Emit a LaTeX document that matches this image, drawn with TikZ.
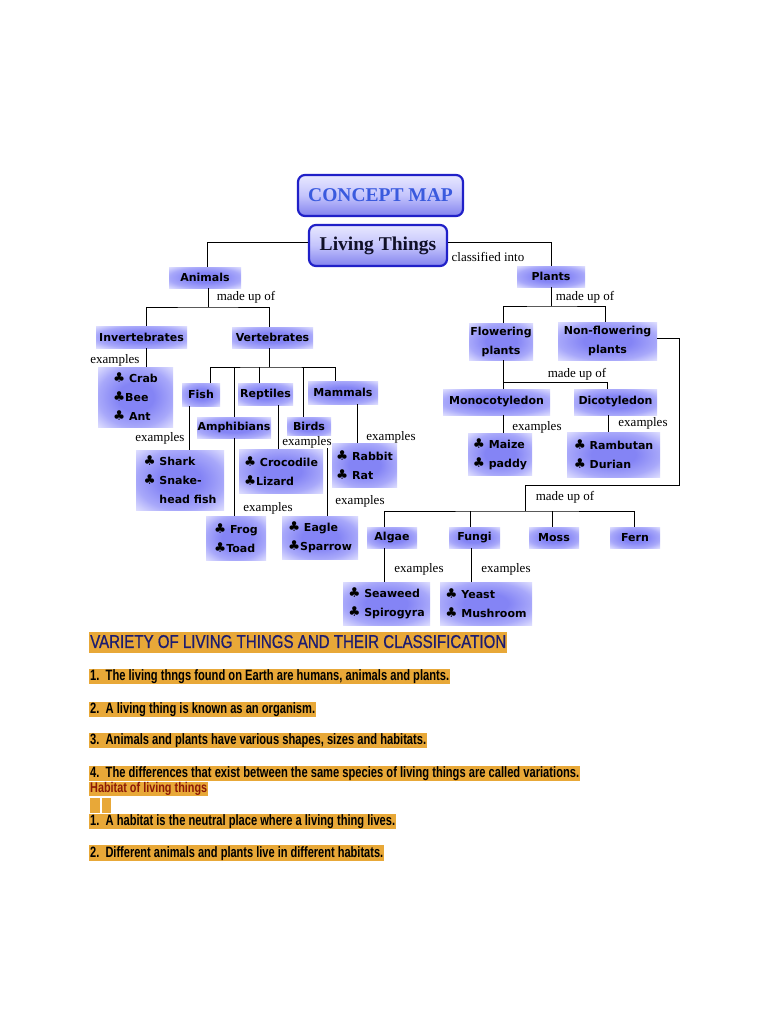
\documentclass[tikz,border=0pt]{standalone}
\usepackage{fontspec}
\usepackage{graphicx}
\setmainfont{Liberation Serif}
\newfontfamily\comicf{DejaVu Sans}
\newfontfamily\arialf{Liberation Sans}
\newfontfamily\arialhead{Liberation Sans}[FakeBold=0.8]
\definecolor{glowin}{RGB}{132,132,245}
\definecolor{glowmid}{RGB}{168,168,250}
\definecolor{glowout}{RGB}{226,226,255}
\definecolor{mainborder}{RGB}{32,32,200}
\definecolor{mtop}{RGB}{232,232,255}
\definecolor{mmid}{RGB}{196,196,252}
\definecolor{mbot}{RGB}{130,130,238}
\definecolor{titleblue}{RGB}{58,90,222}
\definecolor{hlorange}{RGB}{232,168,56}
\definecolor{navytext}{RGB}{28,28,112}
\definecolor{maroontext}{RGB}{140,26,6}
\pgfdeclareradialshading{glowshade}{\pgfpoint{0bp}{0bp}}{color(0bp)=(glowin); color(12bp)=(glowin); color(25bp)=(glowmid); color(36bp)=(glowout); color(50bp)=(glowout)}
\newcommand\myclub{{\fontsize{13.5}{19}\selectfont ♣}}
\tikzset{
  gbox/.style={rectangle, inner sep=0pt, shading=glowshade,
    font=\comicf\bfseries\fontsize{11}{19}\selectfont, text=black},
  mainbox/.style={rectangle, rounded corners=7pt, draw=mainborder, line width=2.2pt,
    top color=mtop, bottom color=mbot, middle color=mmid, inner sep=0pt},
  lbl/.style={font=\fontsize{13}{13}\selectfont, inner sep=0.5pt},
  conn/.style={draw=black, line width=0.9pt},
  hl/.style={fill=hlorange, inner sep=0pt, anchor=north west},
}
\begin{document}
\begin{tikzpicture}[x=1pt,y=-1pt]
\useasboundingbox (0,0) rectangle (768,1024);
\fill[white] (0,0) rectangle (768,1024);

% main boxes
\node[mainbox, minimum width=165pt, minimum height=41pt, text=titleblue,
  font=\bfseries\fontsize{19.5}{19.5}\selectfont] (CM) at (380.5,195.5) {CONCEPT MAP};
\node[mainbox, minimum width=138pt, minimum height=41pt, text={rgb,255:red,16;green,16;blue,40},
  font=\bfseries\fontsize{19.5}{19.5}\selectfont] (LT) at (378,245.5) {Living Things};

% glow boxes
\node[gbox, minimum width=72pt, minimum height=21pt] (Animals) at (205,277.5) {Animals};
\node[gbox, minimum width=68pt, minimum height=21pt] (Plants) at (551,276.5) {Plants};
\node[gbox, minimum width=91pt, minimum height=22pt] (Inv) at (141.5,337) {Invertebrates};
\node[gbox, minimum width=81pt, minimum height=21pt] (Vert) at (272.5,337.5) {Vertebrates};
\node[gbox, minimum width=75pt, minimum height=60pt, align=left] (Crab) at (135.5,397) {\myclub{} Crab\\\myclub Bee\\\myclub{} Ant};
\node[gbox, minimum width=38pt, minimum height=23pt] (Fish) at (201,394.5) {Fish};
\node[gbox, minimum width=55pt, minimum height=22pt] (Rept) at (265.5,394) {Reptiles};
\node[gbox, minimum width=70pt, minimum height=23pt] (Mammals) at (343,392.5) {Mammals};
\node[gbox, minimum width=74pt, minimum height=21pt] (Amph) at (234,427.5) {Amphibians};
\node[gbox, minimum width=44pt, minimum height=19pt] (Birds) at (309,426.5) {Birds};
\node[gbox, minimum width=88pt, minimum height=60pt, align=left] (Shark) at (180,480) {\myclub{} Shark\\\myclub{} Snake-\\\phantom{\myclub{} }head fish};
\node[gbox, minimum width=84pt, minimum height=44pt, align=left] (Croc) at (281,471) {\myclub{} Crocodile\\\myclub Lizard};
\node[gbox, minimum width=65pt, minimum height=44pt, align=left] (Rabbit) at (364.5,465) {\myclub{} Rabbit\\\myclub{} Rat};
\node[gbox, minimum width=60pt, minimum height=44pt, align=left] (Frog) at (236,538) {\myclub{} Frog\\\myclub Toad};
\node[gbox, minimum width=76pt, minimum height=43pt, align=left] (Eagle) at (320,537.5) {\myclub{} Eagle\\\myclub Sparrow};
\node[gbox, minimum width=64pt, minimum height=37pt, align=center] (Flow) at (501,341.5) {Flowering\\plants};
\node[gbox, minimum width=99pt, minimum height=38pt, align=center] (NonF) at (607.5,341) {Non-flowering\\plants};
\node[gbox, minimum width=107pt, minimum height=26pt] (Mono) at (496.5,402) {Monocotyledon};
\node[gbox, minimum width=83pt, minimum height=26pt] (Dico) at (615.5,402) {Dicotyledon};
\node[gbox, minimum width=64pt, minimum height=42pt, align=left] (Maize) at (500,454) {\myclub{} Maize\\\myclub{} paddy};
\node[gbox, minimum width=93pt, minimum height=45pt, align=left] (Ramb) at (613.5,454.5) {\myclub{} Rambutan\\\myclub{} Durian};
\node[gbox, minimum width=50pt, minimum height=21pt] (Algae) at (392,537.5) {Algae};
\node[gbox, minimum width=51pt, minimum height=21pt] (Fungi) at (474.5,537.5) {Fungi};
\node[gbox, minimum width=50pt, minimum height=21pt] (Moss) at (554,537.5) {Moss};
\node[gbox, minimum width=50pt, minimum height=21pt] (Fern) at (635,537.5) {Fern};
\node[gbox, minimum width=87pt, minimum height=43pt, align=left] (Seaweed) at (386.5,603.5) {\myclub{} Seaweed\\\myclub{} Spirogyra};
\node[gbox, minimum width=92pt, minimum height=43pt, align=left] (Yeast) at (486,603.5) {\myclub{} Yeast\\\myclub{} Mushroom};

% junctions
\coordinate (jA) at (208,307);
\coordinate (jV) at (269,367);
\coordinate (jP) at (550,306);
\coordinate (jF) at (503,382);
\coordinate (cR) at (679,485);
\coordinate (jN) at (525,511);

% connectors
\draw[conn] ([yshift=3pt]LT.west) -| ([xshift=2pt]Animals.north);
\draw[conn] ([yshift=3pt]LT.east) -| (Plants.north);
\draw[conn] (Animals.south -| jA) -- (jA);
\draw[conn] ([xshift=4.5pt]Inv.north) |- (jA) -| ([xshift=-3.5pt]Vert.north);
\draw[conn] ([xshift=4.5pt]Inv.south) -- ([xshift=4.5pt]Inv.south |- Crab.north);
\draw[conn] ([xshift=-3.5pt]Vert.south) -- (jV);
\draw[conn] ([xshift=9pt]Fish.north) |- (jV) -| ([xshift=-8pt]Mammals.north);
\draw[conn] (Amph.north) -- (Amph.north |- jV);
\draw[conn] ([xshift=-6.5pt]Rept.north) -- ([xshift=-6.5pt]Rept.north |- jV);
\draw[conn] ([xshift=-6pt]Birds.north) -- ([xshift=-6pt]Birds.north |- jV);
\draw[conn] ([xshift=-12pt]Fish.south) -- ([xshift=-12pt]Fish.south |- Shark.north);
\draw[conn] (Amph.south) -- (Amph.south |- Frog.north);
\draw[conn] ([xshift=12.5pt]Rept.south) -- ([xshift=12.5pt]Rept.south |- Croc.north);
\draw[conn] ([xshift=18pt]Birds.south) -- ([xshift=18pt]Birds.south |- Eagle.north);
\draw[conn] ([xshift=14pt]Mammals.south) -- ([xshift=14pt]Mammals.south |- Rabbit.north);

\draw[conn] (Plants.south) -- (Plants.south |- jP);
\draw[conn] ([xshift=2pt]Flow.north) |- (jP) -| ([xshift=-2.5pt]NonF.north);
\draw[conn] ([xshift=2pt]Flow.south) -- (jF);
\draw[conn] ([xshift=6.5pt]Mono.north) |- (jF) -| ([xshift=-8.5pt]Dico.north);
\draw[conn] ([xshift=6.5pt]Mono.south) -- ([xshift=6.5pt]Mono.south |- Maize.north);
\draw[conn] ([xshift=-7.5pt]Dico.south) -- ([xshift=-7.5pt]Dico.south |- Ramb.north);
\draw[conn] ([yshift=3pt]NonF.east) -| (cR) -| (jN);
\draw[conn] ([xshift=-8pt]Algae.north) |- (jN) -| ([xshift=-1pt]Fern.north);
\draw[conn] ([xshift=-4.5pt]Fungi.north) -- ([xshift=-4.5pt]Fungi.north |- jN);
\draw[conn] ([xshift=-2pt]Moss.north) -- ([xshift=-2pt]Moss.north |- jN);
\draw[conn] ([xshift=-8pt]Algae.south) -- ([xshift=-8pt]Algae.south |- Seaweed.north);
\draw[conn] ([xshift=-3.5pt]Fungi.south) -- ([xshift=-3.5pt]Fungi.south |- Yeast.north);

% labels
\node[lbl] (l1) at (246,297) {made up of};
\node[lbl] (l2) at (488,257) {classified into};
\node[lbl] (l3) at (115,360) {examples};
\node[lbl] (l4) at (160,438) {examples};
\node[lbl, fill=white] (l5) at (307,442) {examples};
\node[lbl] (l6) at (391,437) {examples};
\node[lbl] (l7) at (268,508) {examples};
\node[lbl] (l8) at (360,501) {examples};
\node[lbl] (l9) at (585,297) {made up of};
\node[lbl] (l10) at (577,374) {made up of};
\node[lbl] (l11) at (537,427) {examples};
\node[lbl] (l12) at (643,423) {examples};
\node[lbl] (l13) at (565,497) {made up of};
\node[lbl] (l14) at (419,569) {examples};
\node[lbl] (l15) at (506,569) {examples};

% bottom text
\node[hl, minimum width=418pt, minimum height=21pt, text height=14.5pt, text depth=4pt] (head) at (89,632)
  {\resizebox{416pt}{\height}{\color{navytext}\arialhead\fontsize{18.5}{18.5}\selectfont VARIETY OF LIVING THINGS AND THEIR CLASSIFICATION}};
\node[hl, minimum width=361pt, minimum height=15pt, text height=11pt, text depth=3pt] (t1) at (89,669)
  {\resizebox{359pt}{\height}{\arialf\bfseries\fontsize{15}{15}\selectfont 1.\ \ The living thngs found on Earth are humans, animals and plants.}};
\node[hl, minimum width=227pt, minimum height=15pt, text height=11pt, text depth=3pt] (t2) at (89,702)
  {\resizebox{225pt}{\height}{\arialf\bfseries\fontsize{15}{15}\selectfont 2.\ \ A living thing is known as an organism.}};
\node[hl, minimum width=338pt, minimum height=15pt, text height=11pt, text depth=3pt] (t3) at (89,733)
  {\resizebox{336pt}{\height}{\arialf\bfseries\fontsize{15}{15}\selectfont 3.\ \ Animals and plants have various shapes, sizes and habitats.}};
\node[hl, minimum width=491pt, minimum height=15pt, text height=11pt, text depth=3pt] (t4) at (89,766)
  {\resizebox{489pt}{\height}{\arialf\bfseries\fontsize{15}{15}\selectfont 4.\ \ The differences that exist between the same species of living things are called variations.}};
\node[hl, minimum width=119pt, minimum height=14pt, text height=10.5pt, text depth=3pt] (hab) at (89,782)
  {\resizebox{117pt}{\height}{\color{maroontext}\arialf\bfseries\fontsize{14}{14}\selectfont Habitat of living things}};
\fill[hlorange] (90,798) rectangle (99.5,812.5);
\fill[hlorange] (101.5,798) rectangle (110.5,812.5);
\node[hl, minimum width=307pt, minimum height=15pt, text height=11pt, text depth=3pt] (t5) at (89,814)
  {\resizebox{305pt}{\height}{\arialf\bfseries\fontsize{15}{15}\selectfont 1.\ \ A habitat is the neutral place where a living thing lives.}};
\node[hl, minimum width=295pt, minimum height=16pt, text height=11.5pt, text depth=3pt] (t6) at (89,845)
  {\resizebox{293pt}{\height}{\arialf\bfseries\fontsize{15}{15}\selectfont 2.\ \ Different animals and plants live in different habitats.}};
\end{tikzpicture}
\end{document}
